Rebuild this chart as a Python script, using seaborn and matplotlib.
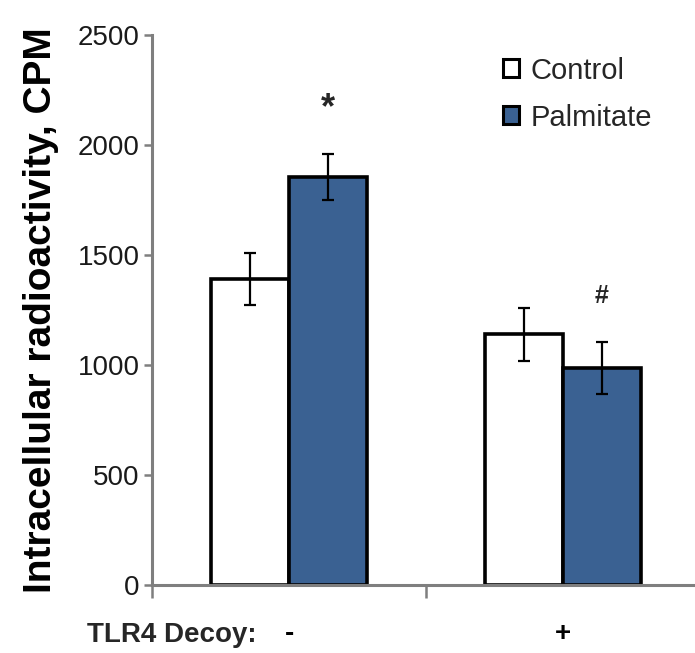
import seaborn as sns
import numpy as np
import matplotlib.pyplot as plt
import pandas as pd

# values
decoy = ["-", "-", "+", "+"]
treatment = ["Control", "Palmitate", "Control", "Palmitate"]
cpm = [1390, 1855, 1140, 986]
sem = [118, 105, 120, 118]
marks = ["", "*", "", "#"]

df = pd.DataFrame({"decoy": decoy, "treatment": treatment, "cpm": cpm, "sem": sem})

sns.set_style("white")
plt.rcParams['font.family'] = ['Liberation Sans', 'DejaVu Sans']

fig = plt.figure(figsize=(6.95, 6.53), dpi=100)
ax = fig.add_axes([152 / 695, 68 / 653, 548 / 695, 550 / 653])

blue = "#3A6192"
sns.barplot(data=df, x="decoy", y="cpm", hue="treatment",
            palette={"Control": "white", "Palmitate": blue}, saturation=1,
            edgecolor="black", linewidth=2.6, width=0.57, gap=0,
            errorbar=None, ax=ax)

# error bars and significance marks on top of the seaborn bars
bars = sorted(ax.patches[:4], key=lambda p: p.get_x())
for p, s, m in zip(bars, df["sem"], marks):
    xc = p.get_x() + p.get_width() / 2
    h = p.get_height()
    ax.errorbar(xc, h, yerr=s, color="black", lw=1.6, capsize=4.5, capthick=1.6)
    if m == "*":
        ax.text(xc, h + s + 205, m, ha="center", va="center", fontsize=26,
                fontweight="bold")
    elif m:
        ax.text(xc, h + s + 210, m, ha="center", va="center", fontsize=18,
                fontweight="bold")

ax.set_xlim(-0.5, 1.5)
ax.set_ylim(0, 2500)
ax.set_yticks([0, 500, 1000, 1500, 2000, 2500])
ax.tick_params(axis="y", direction="out", length=6, width=1.8, color="#7f7f7f",
               labelsize=20, pad=3, left=True, labelcolor="#1a1a1a")
ax.set_xticks([-0.5, 0.5, 1.5], minor=True)
ax.tick_params(axis="x", which="minor", direction="out", length=9, width=1.8,
               color="#7f7f7f", bottom=True)
ax.tick_params(axis="x", which="major", length=0, labelsize=20, pad=26,
               labelcolor="black")
for lab in ax.get_xticklabels():
    lab.set_fontweight("bold")

for side in ["top", "right"]:
    ax.spines[side].set_visible(False)
for side in ["left", "bottom"]:
    ax.spines[side].set_color("#7f7f7f")
    ax.spines[side].set_linewidth(2.2)

ax.set_xlabel("")
ax.set_ylabel("Intracellular radioactivity, CPM", fontsize=28, fontweight="bold",
              labelpad=13, color="black")
fig.text(87 / 695, 1 - 635 / 653, "TLR4 Decoy:", fontsize=20, fontweight="bold",
         ha="left", va="center")

leg = ax.legend(loc="upper left", bbox_to_anchor=(488 / 695, 1 - 42 / 653),
                bbox_transform=fig.transFigure, frameon=False,
                fontsize=21, handlelength=0.55, handleheight=0.55,
                handletextpad=0.4, labelspacing=0.65, borderpad=0)
for h in leg.legend_handles:
    h.set_linewidth(2.2)

plt.savefig("out.png", dpi=100)
